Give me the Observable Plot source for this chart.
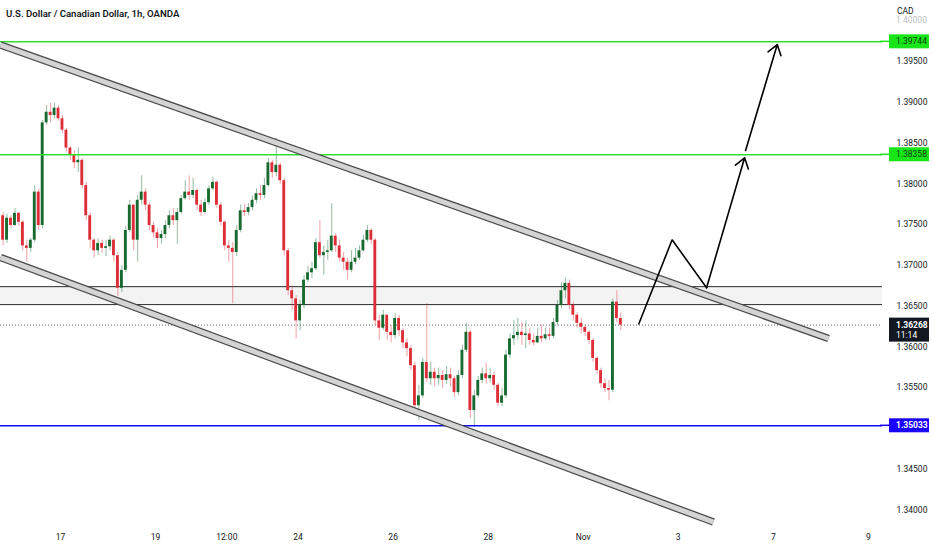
<!DOCTYPE html>
<html><head><meta charset="utf-8">
<script src="https://cdn.jsdelivr.net/npm/d3@7"></script>
<script src="https://cdn.jsdelivr.net/npm/@observablehq/plot@0.6"></script>
<style>
html,body{margin:0;padding:0;background:#fff;}
#chart{position:relative;width:932px;height:550px;overflow:hidden;}
</style></head>
<body><div id="chart"></div>
<script>
// ---- data ----
const title = "U.S. Dollar / Canadian Dollar, 1h, OANDA";
const currency = "CAD";
const tickHours = [0, 48, 84, 120, 168, 216, 264, 312, 360, 408];
const tickLabels = ["17", "19", "12:00", "24", "26", "28", "Nov", "3", "7", "9"];
// 1.35000 is hidden behind the blue level label in the reference
const priceTicks = [1.340, 1.345, 1.355, 1.360, 1.365, 1.370, 1.375, 1.380, 1.385, 1.390, 1.395];
const topTick = 1.400;
const greenLevels = [1.39744, 1.38358];
const blueLevels = [1.35033];
const lastPrice = 1.36268;
const lastTimer = "11:14";
const zoneLow = 1.3652, zoneHigh = 1.3674;
const upperChH = [-30.3, 387.9], upperChP = [1.39705, 1.36104];
const lowerChH = [-30.3, 329.8], lowerChP = [1.37098, 1.33852];
const pathH = [292.1, 308.9, 326.3, 345.5];
const pathP = [1.36284, 1.37315, 1.36726, 1.38321];
const arrow2H = [346.0, 362.0], arrow2P = [1.38410, 1.39711];

// 2-hour candles starting at hour -29 (relative to Oct 17 00:00)
const firstHour = -29, stepHours = 2;
const firstOpen = 1.3761;
const closes = [
1.3731,1.3758,1.3749,1.3764,1.3753,1.3724,1.3721,1.3731,1.3790,1.3749,
1.3875,1.3888,1.3884,1.3893,1.3880,1.3866,1.3844,1.3835,1.3826,1.3829,
1.3798,1.3761,1.3731,1.3718,1.3727,1.3721,1.3723,1.3731,1.3712,1.3672,
1.3694,1.3743,1.3774,1.3731,1.3780,1.3790,1.3774,1.3749,1.3740,1.3733,
1.3738,1.3749,1.3761,1.3755,1.3765,1.3782,1.3790,1.3786,1.3792,1.3774,
1.3765,1.3777,1.3794,1.3802,1.3774,1.3753,1.3724,1.3721,1.3716,1.3743,
1.3767,1.3765,1.3771,1.3780,1.3788,1.3786,1.3798,1.3826,1.3814,1.3823,
1.3804,1.3718,1.3669,1.3659,1.3632,1.3651,1.3682,1.3691,1.3696,1.3728,
1.3712,1.3716,1.3718,1.3736,1.3724,1.3709,1.3704,1.3694,1.3704,1.3709,
1.3718,1.3731,1.3743,1.3731,1.3632,1.3623,1.3639,1.3618,1.3614,1.3635,
1.3620,1.3605,1.3598,1.3577,1.3528,1.3540,1.3581,1.3561,1.3569,1.3561,
1.3565,1.3559,1.3566,1.3561,1.3544,1.3565,1.3596,1.3618,1.3522,1.3540,
1.3559,1.3567,1.3561,1.3565,1.3553,1.3531,1.3540,1.3590,1.3610,1.3614,
1.3618,1.3614,1.3616,1.3608,1.3605,1.3613,1.3610,1.3615,1.3613,1.3630,
1.3651,1.3669,1.3678,1.3651,1.3639,1.3629,1.3624,1.3618,1.3608,1.3586,
1.3571,1.3555,1.3549,1.3547,1.3655,1.3635,1.36268];
const highs = [
1.3765,1.3763,1.3761,1.3770,1.3765,1.3755,1.3731,1.3733,1.3798,1.3794,
1.3878,1.3896,1.3899,1.3899,1.3896,1.3884,1.3868,1.3846,1.3841,1.3844,
1.3831,1.3802,1.3765,1.3733,1.3733,1.3731,1.3731,1.3736,1.3733,1.3716,
1.3700,1.3748,1.3780,1.3772,1.3786,1.3810,1.3794,1.3777,1.3753,1.3745,
1.3743,1.3755,1.3767,1.3770,1.3770,1.3786,1.3804,1.3810,1.3807,1.3794,
1.3780,1.3782,1.3798,1.3808,1.3804,1.3777,1.3755,1.3731,1.3728,1.3749,
1.3774,1.3775,1.3776,1.3785,1.3794,1.3798,1.3807,1.3831,1.3829,1.3856,
1.3826,1.3807,1.3721,1.3675,1.3663,1.3657,1.3688,1.3699,1.3704,1.3733,
1.3755,1.3724,1.3731,1.3776,1.3739,1.3731,1.3716,1.3709,1.3718,1.3721,
1.3724,1.3737,1.3749,1.3745,1.3733,1.3639,1.3645,1.3639,1.3626,1.3641,
1.3639,1.3623,1.3610,1.3602,1.3581,1.3553,1.3586,1.3653,1.3581,1.3574,
1.3574,1.3571,1.3576,1.3574,1.3564,1.3571,1.3602,1.3629,1.3620,1.3547,
1.3564,1.3574,1.3580,1.3574,1.3569,1.3555,1.3549,1.3596,1.3616,1.3632,
1.3635,1.3630,1.3632,1.3623,1.3616,1.3623,1.3627,1.3623,1.3623,1.3635,
1.3657,1.3679,1.3685,1.3682,1.3655,1.3642,1.3635,1.3627,1.3620,1.3610,
1.3588,1.3574,1.3561,1.3559,1.3659,1.3669,1.3642];
const lows = [
1.3724,1.3727,1.3745,1.3748,1.3748,1.3718,1.3704,1.3716,1.3728,1.3743,
1.3745,1.3872,1.3875,1.3880,1.3877,1.3862,1.3839,1.3829,1.3819,1.3814,
1.3794,1.3755,1.3721,1.3709,1.3712,1.3715,1.3711,1.3718,1.3704,1.3662,
1.3667,1.3691,1.3740,1.3718,1.3704,1.3774,1.3767,1.3743,1.3734,1.3721,
1.3726,1.3733,1.3745,1.3749,1.3726,1.3763,1.3780,1.3780,1.3782,1.3767,
1.3760,1.3763,1.3774,1.3792,1.3770,1.3748,1.3718,1.3704,1.3653,1.3711,
1.3740,1.3760,1.3761,1.3767,1.3776,1.3780,1.3782,1.3796,1.3807,1.3809,
1.3799,1.3712,1.3663,1.3645,1.3610,1.3620,1.3647,1.3679,1.3684,1.3694,
1.3709,1.3688,1.3706,1.3716,1.3716,1.3704,1.3694,1.3682,1.3691,1.3701,
1.3706,1.3716,1.3728,1.3726,1.3626,1.3608,1.3620,1.3608,1.3605,1.3610,
1.3613,1.3598,1.3588,1.3571,1.3520,1.3510,1.3537,1.3556,1.3553,1.3551,
1.3553,1.3549,1.3554,1.3551,1.3538,1.3540,1.3561,1.3593,1.3512,1.3501,
1.3537,1.3555,1.3555,1.3556,1.3547,1.3527,1.3527,1.3537,1.3586,1.3602,
1.3608,1.3602,1.3598,1.3602,1.3601,1.3604,1.3605,1.3608,1.3608,1.3610,
1.3626,1.3647,1.3659,1.3645,1.3632,1.3623,1.3616,1.3613,1.3603,1.3581,
1.3566,1.3549,1.3544,1.3534,1.3544,1.3630,1.3620];

// ---- build tables ----
const candles = closes.map((c, i) => {
  const o = i === 0 ? firstOpen : closes[i - 1];
  return {h: firstHour + stepHours * i, o, c,
          hi: Math.max(highs[i], o, c), lo: Math.min(lows[i], o, c), up: c >= o};
});
const UP = "#17692f", DOWN = "#dd2e38";
const labelMap = new Map(tickHours.map((h, i) => [h, tickLabels[i]]));
const upperCh = upperChH.map((h, i) => ({h, p: upperChP[i]}));
const lowerCh = lowerChH.map((h, i) => ({h, p: lowerChP[i]}));
const pathPts = pathH.slice(0, 3).map((h, i) => ({h, p: pathP[i]}));
const arrows = [
  {x1: pathH[2], y1: pathP[2], x2: pathH[3], y2: pathP[3]},
  {x1: arrow2H[0], y1: arrow2P[0], x2: arrow2H[1], y2: arrow2P[1]}
];

const chart = Plot.plot({
  width: 932, height: 550,
  marginLeft: 0, marginRight: 50, marginTop: 0, marginBottom: 30,
  style: {fontFamily: "Roboto, 'Liberation Sans', sans-serif", fontSize: "8.5px", color: "#131722", background: "#fff"},
  x: {domain: [-30.3, 415.15], axis: null},
  y: {domain: [1.33871, 1.40251], axis: null},
  marks: [
    // zone
    Plot.rect([{a: zoneLow, b: zoneHigh}], {y1: "a", y2: "b", fill: "#f3f3f3"}),
    Plot.ruleY([zoneLow, zoneHigh], {stroke: "#2a2a2a", strokeWidth: 1}),
    // last price dotted
    Plot.ruleY([lastPrice], {stroke: "#666", strokeWidth: 1, strokeDasharray: "1,2"}),
    // candles
    Plot.ruleX(candles, {x: "h", y1: "lo", y2: "hi", stroke: d => d.up ? UP : DOWN, strokeOpacity: 0.45, strokeWidth: 1}),
    Plot.rect(candles, {x1: d => d.h - 0.72, x2: d => d.h + 0.72,
      y1: "o", y2: d => Math.abs(d.c - d.o) < 0.00004 ? d.o + (d.up ? 0.00005 : -0.00005) : d.c,
      fill: d => d.up ? UP : DOWN}),
    // levels
    Plot.ruleY(greenLevels, {stroke: "#2ee02e", strokeWidth: 1.5}),
    Plot.ruleY(blueLevels, {stroke: "#1010f0", strokeWidth: 1.5}),
    // channels
    Plot.line(upperCh, {x: "h", y: "p", stroke: "#4a4a4a", strokeWidth: 7.5, strokeLinecap: "butt"}),
    Plot.line(upperCh, {x: "h", y: "p", stroke: "#d4d4d4", strokeWidth: 5, strokeLinecap: "butt"}),
    Plot.line(lowerCh, {x: "h", y: "p", stroke: "#4a4a4a", strokeWidth: 7.5, strokeLinecap: "butt"}),
    Plot.line(lowerCh, {x: "h", y: "p", stroke: "#d4d4d4", strokeWidth: 5, strokeLinecap: "butt"}),
    // projection path
    Plot.line(pathPts, {x: "h", y: "p", stroke: "#000", strokeWidth: 1.6, strokeLinejoin: "miter"}),
    Plot.arrow(arrows, {x1: "x1", y1: "y1", x2: "x2", y2: "y2", stroke: "#000", strokeWidth: 1.6, headLength: 11, headAngle: 70}),
    // axes
    Plot.axisY({anchor: "right", ticks: priceTicks, tickSize: 0, tickPadding: 14, textAnchor: "start",
      tickFormat: d => d.toFixed(5), fill: "#131722"}),
    Plot.axisX({anchor: "bottom", ticks: tickHours, tickSize: 0, tickPadding: 13,
      tickFormat: d => labelMap.get(d), fill: "#131722"})
  ]
});
document.getElementById("chart").appendChild(chart);

// ---- overlay labels using the chart's own scales ----
const y = chart.scale("y");
const svg = d3.select(chart);
const g = svg.append("g")
  .attr("font-family", "Roboto, 'Liberation Sans', sans-serif")
  .attr("font-size", "8.5px")
  .attr("text-anchor", "start");
g.append("text").attr("x", 896).attr("y", y.apply(topTick) + 3).attr("fill", "#131722").attr("opacity", 0.3).text(topTick.toFixed(5));
g.append("rect").attr("x", 884).attr("y", 0).attr("width", 48).attr("height", 16).attr("fill", "#fff");
g.append("text").attr("x", 897).attr("y", 14).attr("fill", "#131722").text(currency);

function box(p, fill, txt, bold) {
  const yy = y.apply(p);
  g.append("line").attr("x1", 880).attr("x2", 889).attr("y1", yy).attr("y2", yy).attr("stroke", fill).attr("stroke-width", 1.5);
  g.append("rect").attr("x", 889).attr("y", yy - 7).attr("width", 40).attr("height", 14).attr("fill", fill);
  g.append("text").attr("x", 896).attr("y", yy + 3).attr("fill", txt).attr("font-weight", bold ? 700 : 400).text(p.toFixed(5));
}
greenLevels.forEach(p => box(p, "#19e619", "#0b3d0b", false));
blueLevels.forEach(p => box(p, "#1a00ff", "#ffffff", true));
{
  const yy = y.apply(lastPrice);
  g.append("rect").attr("x", 889).attr("y", yy - 7).attr("width", 40).attr("height", 24).attr("fill", "#131722");
  g.append("text").attr("x", 896).attr("y", yy + 3).attr("fill", "#fff").attr("font-weight", 700).text(lastPrice.toFixed(5));
  g.append("text").attr("x", 896).attr("y", yy + 13).attr("fill", "#fff").text(lastTimer);
}
g.append("text").attr("x", 6).attr("y", 17).attr("fill", "#131722").attr("font-size", "9.6px").attr("font-weight", 600).text(title);
</script>
</body></html>
